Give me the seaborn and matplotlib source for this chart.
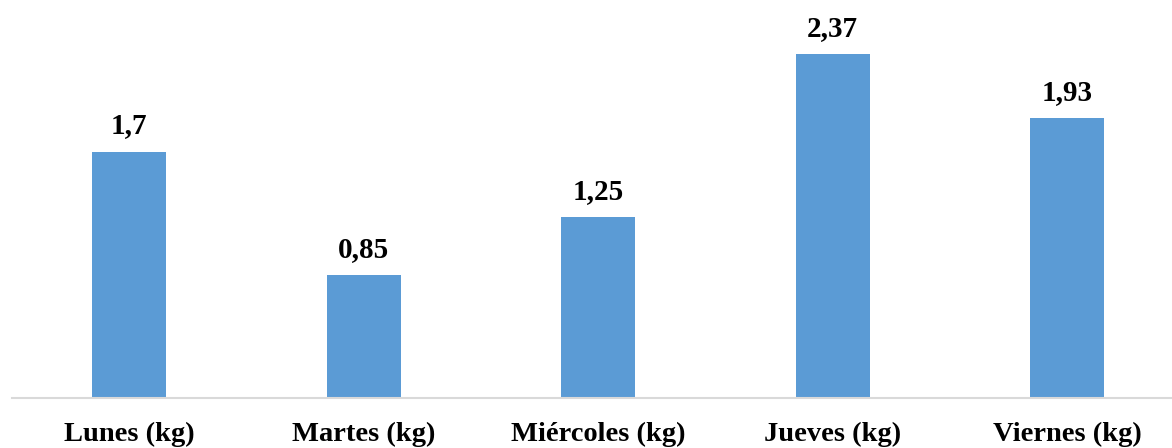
import matplotlib
matplotlib.use("Agg")
import matplotlib.pyplot as plt
import seaborn as sns
import pandas as pd

categories = ["Lunes (kg)", "Martes (kg)", "Miércoles (kg)", "Jueves (kg)", "Viernes (kg)"]
values = [1.7, 0.85, 1.25, 2.37, 1.93]
value_labels = ["1,7", "0,85", "1,25", "2,37", "1,93"]

sns.set_style("white")
plt.rcParams['font.family'] = ['Liberation Serif', 'DejaVu Serif']
plt.rcParams['text.color'] = 'black'
plt.rcParams['xtick.color'] = 'black'

df = pd.DataFrame({"cat": categories, "val": values})

W, H = 1172, 448
fig = plt.figure(figsize=(W / 100, H / 100), dpi=100)
ax = fig.add_axes([12 / W, (H - 398) / H, 1160 / W, 398 / H])

sns.barplot(data=df, x="cat", y="val", color="#5B9BD5", width=74 / 234.5,
            saturation=1, ax=ax, linewidth=0)

ax.set_xlim(-0.5, -0.5 + 1160 / 234.5)
ax.set_ylim(0, 398 / 145)

for i, (v, lab) in enumerate(zip(values, value_labels)):
    ax.annotate(lab, (i, v), xytext=(0, 12), textcoords="offset pixels",
                ha="center", va="bottom", fontsize=21, fontweight="bold",
                color="black")

ax.set_xlabel("")
ax.set_ylabel("")
ax.set_yticks([])
ax.tick_params(axis="x", length=0, pad=17, labelsize=20.5, labelcolor="black")
for t in ax.get_xticklabels():
    t.set_fontweight("bold")
for s in ["top", "right", "left"]:
    ax.spines[s].set_visible(False)
ax.spines["bottom"].set_color("#D9D9D9")
ax.spines["bottom"].set_linewidth(1.5)

fig.savefig("out.png", dpi=100)
